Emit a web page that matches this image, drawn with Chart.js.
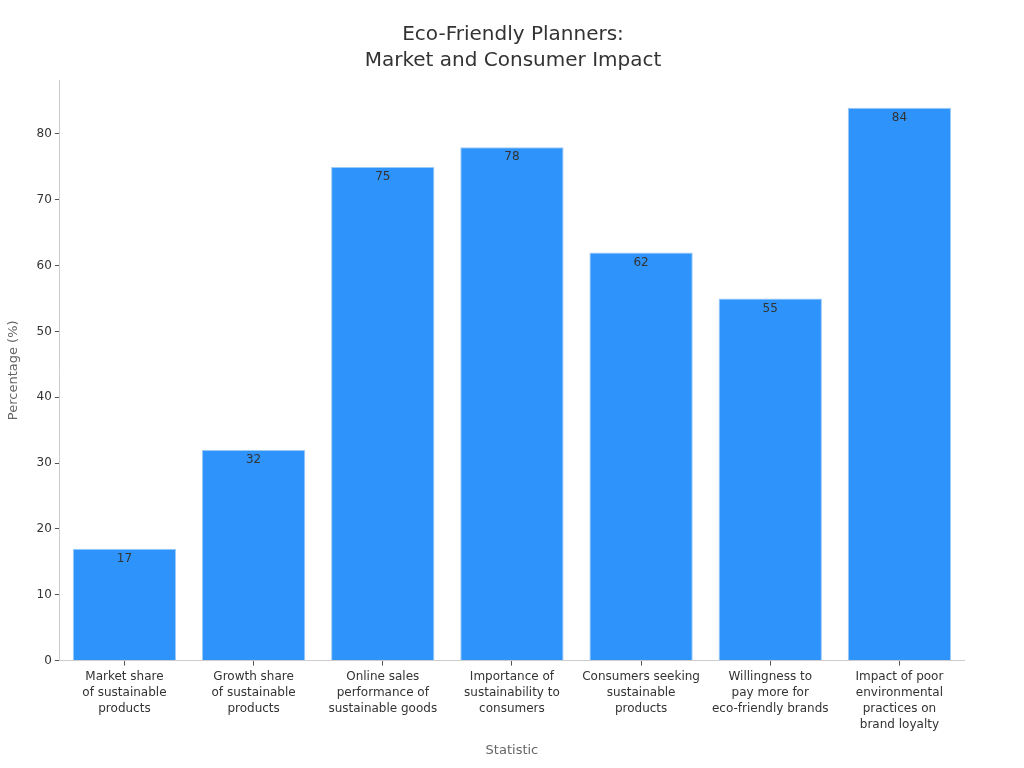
<!DOCTYPE html>
<html>
<head>
<meta charset="utf-8">
<script src="https://cdn.jsdelivr.net/npm/chart.js@4.4.0/dist/chart.umd.min.js"></script>
<style>
  html, body { margin: 0; padding: 0; background: #fff; }
  #wrap { width: 1024px; height: 768px; }
</style>
</head>
<body>
<div id="wrap"><canvas id="chart" width="1024" height="768"></canvas></div>
<script>
// categories, shown on several lines
var categories = [
  ["Market share", "of sustainable", "products"],
  ["Growth share", "of sustainable", "products"],
  ["Online sales", "performance of", "sustainable goods"],
  ["Importance of", "sustainability to", "consumers"],
  ["Consumers seeking", "sustainable", "products"],
  ["Willingness to", "pay more for", "eco-friendly brands"],
  ["Impact of poor", "environmental", "practices on", "brand loyalty"]
];
var percentages = [17, 32, 75, 78, 62, 55, 84];
var yTicks = [0, 10, 20, 30, 40, 50, 60, 70, 80];

Chart.defaults.font.family = "'DejaVu Sans', sans-serif";
Chart.defaults.color = '#333';

// numbers just inside the top of each bar
var barLabels = {
  id: 'barLabels',
  afterDatasetsDraw: function(chart) {
    var ctx = chart.ctx;
    var meta = chart.getDatasetMeta(0);
    ctx.save();
    ctx.font = "12px 'DejaVu Sans', sans-serif";
    ctx.fillStyle = '#333';
    ctx.textAlign = 'center';
    ctx.textBaseline = 'middle';
    meta.data.forEach(function(bar, i) {
      ctx.fillText(percentages[i], bar.x, bar.y + 10);
    });
    ctx.restore();
  }
};

new Chart(document.getElementById('chart').getContext('2d'), {
  type: 'bar',
  data: {
    labels: categories,
    datasets: [{
      data: percentages,
      backgroundColor: '#2E93FA',
      borderColor: '#9CCBF7',
      borderWidth: 1,
      categoryPercentage: 0.8,
      barPercentage: 1.0
    }]
  },
  options: {
    responsive: false,
    animation: false,
    layout: { padding: { left: 2, right: 0, top: 0, bottom: 6 } },
    plugins: {
      legend: { display: false },
      tooltip: { enabled: false },
      title: {
        display: true,
        text: ['Eco-Friendly Planners:', 'Market and Consumer Impact'],
        color: '#333',
        font: { size: 20, weight: 'normal', lineHeight: 1.3 },
        padding: { top: 22, bottom: 6 }
      }
    },
    scales: {
      x: {
        grid: { offset: false, drawOnChartArea: false, drawTicks: true, tickLength: 5, color: '#555' },
        border: { display: true, color: '#ccc' },
        ticks: { color: '#333', font: { size: 12, lineHeight: 1.35 }, maxRotation: 0, autoSkip: false, padding: 3 },
        title: { display: true, text: 'Statistic', color: '#666', font: { size: 13 }, padding: { top: 6 } }
      },
      y: {
        min: 0,
        max: 88.2,
        afterBuildTicks: function(axis) {
          axis.ticks = yTicks.map(function(v) { return { value: v }; });
        },
        grid: { drawOnChartArea: false, drawTicks: true, tickLength: 5, color: '#555' },
        border: { display: true, color: '#ccc' },
        ticks: { color: '#333', font: { size: 12 }, padding: 3 },
        title: { display: true, text: 'Percentage (%)', color: '#666', font: { size: 13 }, padding: { bottom: 12 } }
      },
      // empty right axis, only keeps white space right of the plot
      spacer: {
        position: 'right',
        ticks: { display: false },
        grid: { display: false },
        border: { display: false },
        afterFit: function(axis) { axis.width = 60; }
      }
    }
  },
  plugins: [barLabels]
});
</script>
</body>
</html>
